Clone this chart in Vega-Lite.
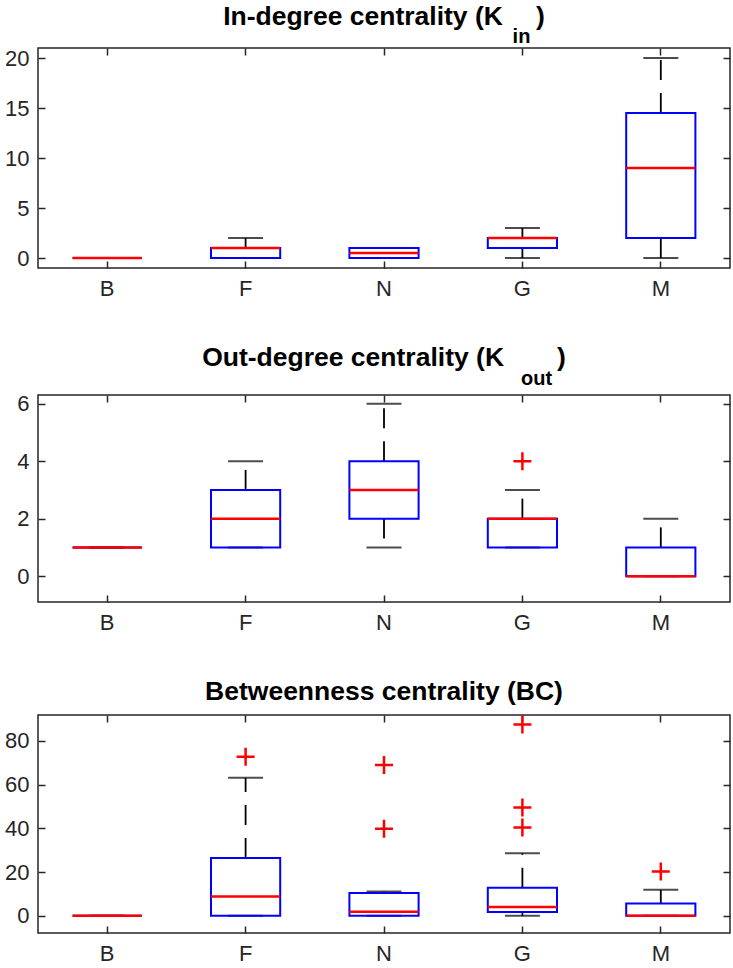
{
  "$schema": "https://vega.github.io/schema/vega-lite/v6.json",
  "padding": {"left": 3, "top": 2, "right": 0, "bottom": 0},
  "spacing": 44,
  "config": {
    "view": {"stroke": "#262626", "strokeWidth": 1.5},
    "font": "Liberation Sans",
    "axis": {"grid": false, "domain": false, "labelFont": "Liberation Sans", "labelFontSize": 22, "labelColor": "#262626", "tickColor": "#262626", "tickSize": -7, "tickWidth": 1.5},
    "title": {"font": "Liberation Sans", "fontSize": 26.5, "fontWeight": "bold", "color": "#000000", "subtitleFont": "Liberation Sans", "subtitleFontSize": 20, "subtitleFontWeight": "bold", "subtitleColor": "#000000", "subtitlePadding": -3, "anchor": "middle"}
  },
  "datasets": {
    "kin": [
      {"cat": "B", "lo": 0, "q1": 0, "med": 0, "q3": 0, "hi": 0},
      {"cat": "F", "lo": 0, "q1": 0, "med": 1, "q3": 1, "hi": 2},
      {"cat": "N", "lo": 0, "q1": 0, "med": 0.5, "q3": 1, "hi": 1},
      {"cat": "G", "lo": 0, "q1": 1, "med": 2, "q3": 2, "hi": 3},
      {"cat": "M", "lo": 0, "q1": 2, "med": 9, "q3": 14.5, "hi": 20}
    ],
    "kout": [
      {"cat": "B", "lo": 1, "q1": 1, "med": 1, "q3": 1, "hi": 1},
      {"cat": "F", "lo": 1, "q1": 1, "med": 2, "q3": 3, "hi": 4},
      {"cat": "N", "lo": 1, "q1": 2, "med": 3, "q3": 4, "hi": 6},
      {"cat": "G", "lo": 1, "q1": 1, "med": 2, "q3": 2, "hi": 3},
      {"cat": "M", "lo": 0, "q1": 0, "med": 0, "q3": 1, "hi": 2}
    ],
    "kout_out": [
      {"cat": "G", "v": 4}
    ],
    "bc": [
      {"cat": "B", "lo": 0, "q1": 0, "med": 0, "q3": 0, "hi": 0},
      {"cat": "F", "lo": 0, "q1": 0, "med": 8.8, "q3": 26.4, "hi": 63.2},
      {"cat": "N", "lo": 0, "q1": 0, "med": 1.8, "q3": 10.4, "hi": 11.1},
      {"cat": "G", "lo": 0, "q1": 1.7, "med": 4.0, "q3": 12.8, "hi": 28.6},
      {"cat": "M", "lo": 0, "q1": 0, "med": 0, "q3": 5.6, "hi": 11.9}
    ],
    "bc_out": [
      {"cat": "F", "v": 72.8},
      {"cat": "N", "v": 69.0},
      {"cat": "N", "v": 39.8},
      {"cat": "G", "v": 87.5},
      {"cat": "G", "v": 49.5},
      {"cat": "G", "v": 40.4},
      {"cat": "M", "v": 20.3}
    ]
  },
  "vconcat": [
    {
      "width": 692, "height": 220,
      "title": {"text": "In-degree centrality (K\u2003\u2005)", "subtitle": "\u200b\u2003\u2003\u2003\u2003\u2003\u2003\u2003\u2003\u2003\u2003\u2003\u2003\u2003\u2002\u2005in", "offset": 0},
      "data": {"name": "kin"},
      "layer": [
        {"mark": {"type": "rule", "color": "#000000", "strokeWidth": 1.8, "strokeDash": [20, 13]},
         "encoding": {
           "x": {"field": "cat", "type": "nominal", "title": null, "scale": {"domain": ["B", "F", "N", "G", "M"], "paddingInner": 0, "paddingOuter": 0}, "axis": {"orient": "bottom", "labelAngle": 0, "labelPadding": 17}},
           "y": {"field": "q3", "type": "quantitative", "title": null, "scale": {"domain": [-1, 21], "nice": false, "zero": false}, "axis": {"orient": "left", "values": [0, 5, 10, 15, 20], "labelPadding": 16}},
           "y2": {"field": "hi"}}},
        {"mark": {"type": "rule", "color": "#000000", "strokeWidth": 1.8, "strokeDash": [20, 13]},
         "encoding": {
           "x": {"field": "cat", "type": "nominal", "title": null, "scale": {"domain": ["B", "F", "N", "G", "M"], "paddingInner": 0, "paddingOuter": 0}, "axis": {"orient": "top", "labels": false}},
           "y": {"field": "q1", "type": "quantitative", "title": null, "scale": {"domain": [-1, 21], "nice": false, "zero": false}, "axis": {"orient": "right", "labels": false, "values": [0, 5, 10, 15, 20]}},
           "y2": {"field": "lo"}}},
        {"mark": {"type": "tick", "color": "#000000", "size": 35, "thickness": 2},
         "encoding": {
           "x": {"field": "cat", "type": "nominal", "axis": null, "scale": {"domain": ["B", "F", "N", "G", "M"], "paddingInner": 0, "paddingOuter": 0}},
           "y": {"field": "hi", "type": "quantitative", "axis": null, "scale": {"domain": [-1, 21], "nice": false, "zero": false}}}},
        {"mark": {"type": "tick", "color": "#000000", "size": 35, "thickness": 2},
         "encoding": {
           "x": {"field": "cat", "type": "nominal", "axis": null, "scale": {"domain": ["B", "F", "N", "G", "M"], "paddingInner": 0, "paddingOuter": 0}},
           "y": {"field": "lo", "type": "quantitative", "axis": null, "scale": {"domain": [-1, 21], "nice": false, "zero": false}}}},
        {"mark": {"type": "bar", "filled": false, "color": "#0000ff", "strokeWidth": 2, "width": {"band": 0.5}},
         "encoding": {
           "x": {"field": "cat", "type": "nominal", "axis": null, "scale": {"domain": ["B", "F", "N", "G", "M"], "paddingInner": 0, "paddingOuter": 0}},
           "y": {"field": "q1", "type": "quantitative", "axis": null, "scale": {"domain": [-1, 21], "nice": false, "zero": false}},
           "y2": {"field": "q3"}}},
        {"mark": {"type": "bar", "filled": false, "color": "#ff0000", "strokeWidth": 2.5, "width": {"band": 0.5}},
         "encoding": {
           "x": {"field": "cat", "type": "nominal", "axis": null, "scale": {"domain": ["B", "F", "N", "G", "M"], "paddingInner": 0, "paddingOuter": 0}},
           "y": {"field": "med", "type": "quantitative", "axis": null, "scale": {"domain": [-1, 21], "nice": false, "zero": false}},
           "y2": {"field": "med"}}}
      ],
      "resolve": {"axis": {"x": "independent", "y": "independent"}}
    },
    {
      "width": 692, "height": 207,
      "title": {"text": "Out-degree centrality (K\u2003\u2003)", "subtitle": "\u200b\u2003\u2003\u2003\u2003\u2003\u2003\u2003\u2003\u2003\u2003\u2003\u2003\u2003\u2003\u2003\u2005out", "offset": 4},
      "data": {"name": "kout"},
      "layer": [
        {"mark": {"type": "rule", "color": "#000000", "strokeWidth": 1.8, "strokeDash": [20, 13]},
         "encoding": {
           "x": {"field": "cat", "type": "nominal", "title": null, "scale": {"domain": ["B", "F", "N", "G", "M"], "paddingInner": 0, "paddingOuter": 0}, "axis": {"orient": "bottom", "labelAngle": 0, "labelPadding": 17}},
           "y": {"field": "q3", "type": "quantitative", "title": null, "scale": {"domain": [-0.9, 6.3], "nice": false, "zero": false}, "axis": {"orient": "left", "values": [0, 2, 4, 6], "labelPadding": 16}},
           "y2": {"field": "hi"}}},
        {"mark": {"type": "rule", "color": "#000000", "strokeWidth": 1.8, "strokeDash": [20, 13]},
         "encoding": {
           "x": {"field": "cat", "type": "nominal", "title": null, "scale": {"domain": ["B", "F", "N", "G", "M"], "paddingInner": 0, "paddingOuter": 0}, "axis": {"orient": "top", "labels": false}},
           "y": {"field": "q1", "type": "quantitative", "title": null, "scale": {"domain": [-0.9, 6.3], "nice": false, "zero": false}, "axis": {"orient": "right", "labels": false, "values": [0, 2, 4, 6]}},
           "y2": {"field": "lo"}}},
        {"mark": {"type": "tick", "color": "#000000", "size": 35, "thickness": 2},
         "encoding": {
           "x": {"field": "cat", "type": "nominal", "axis": null, "scale": {"domain": ["B", "F", "N", "G", "M"], "paddingInner": 0, "paddingOuter": 0}},
           "y": {"field": "hi", "type": "quantitative", "axis": null, "scale": {"domain": [-0.9, 6.3], "nice": false, "zero": false}}}},
        {"mark": {"type": "tick", "color": "#000000", "size": 35, "thickness": 2},
         "encoding": {
           "x": {"field": "cat", "type": "nominal", "axis": null, "scale": {"domain": ["B", "F", "N", "G", "M"], "paddingInner": 0, "paddingOuter": 0}},
           "y": {"field": "lo", "type": "quantitative", "axis": null, "scale": {"domain": [-0.9, 6.3], "nice": false, "zero": false}}}},
        {"mark": {"type": "bar", "filled": false, "color": "#0000ff", "strokeWidth": 2, "width": {"band": 0.5}},
         "encoding": {
           "x": {"field": "cat", "type": "nominal", "axis": null, "scale": {"domain": ["B", "F", "N", "G", "M"], "paddingInner": 0, "paddingOuter": 0}},
           "y": {"field": "q1", "type": "quantitative", "axis": null, "scale": {"domain": [-0.9, 6.3], "nice": false, "zero": false}},
           "y2": {"field": "q3"}}},
        {"mark": {"type": "bar", "filled": false, "color": "#ff0000", "strokeWidth": 2.5, "width": {"band": 0.5}},
         "encoding": {
           "x": {"field": "cat", "type": "nominal", "axis": null, "scale": {"domain": ["B", "F", "N", "G", "M"], "paddingInner": 0, "paddingOuter": 0}},
           "y": {"field": "med", "type": "quantitative", "axis": null, "scale": {"domain": [-0.9, 6.3], "nice": false, "zero": false}},
           "y2": {"field": "med"}}},
        {"data": {"name": "kout_out"},
         "mark": {"type": "point", "shape": "M-1,0L1,0M0,-1L0,1", "size": 324, "filled": false, "color": "#ff0000", "strokeWidth": 2.5, "opacity": 1},
         "encoding": {
           "x": {"field": "cat", "type": "nominal", "axis": null, "scale": {"domain": ["B", "F", "N", "G", "M"], "paddingInner": 0, "paddingOuter": 0}},
           "y": {"field": "v", "type": "quantitative", "axis": null, "scale": {"domain": [-0.9, 6.3], "nice": false, "zero": false}}}}
      ],
      "resolve": {"axis": {"x": "independent", "y": "independent"}}
    },
    {
      "width": 692, "height": 218,
      "title": {"text": "Betweenness centrality (BC)", "offset": 5},
      "data": {"name": "bc"},
      "layer": [
        {"mark": {"type": "rule", "color": "#000000", "strokeWidth": 1.8, "strokeDash": [20, 13]},
         "encoding": {
           "x": {"field": "cat", "type": "nominal", "title": null, "scale": {"domain": ["B", "F", "N", "G", "M"], "paddingInner": 0, "paddingOuter": 0}, "axis": {"orient": "bottom", "labelAngle": 0, "labelPadding": 17}},
           "y": {"field": "q3", "type": "quantitative", "title": null, "scale": {"domain": [-7.9, 91.9], "nice": false, "zero": false}, "axis": {"orient": "left", "values": [0, 20, 40, 60, 80], "labelPadding": 16}},
           "y2": {"field": "hi"}}},
        {"mark": {"type": "rule", "color": "#000000", "strokeWidth": 1.8, "strokeDash": [20, 13]},
         "encoding": {
           "x": {"field": "cat", "type": "nominal", "title": null, "scale": {"domain": ["B", "F", "N", "G", "M"], "paddingInner": 0, "paddingOuter": 0}, "axis": {"orient": "top", "labels": false}},
           "y": {"field": "q1", "type": "quantitative", "title": null, "scale": {"domain": [-7.9, 91.9], "nice": false, "zero": false}, "axis": {"orient": "right", "labels": false, "values": [0, 20, 40, 60, 80]}},
           "y2": {"field": "lo"}}},
        {"mark": {"type": "tick", "color": "#000000", "size": 35, "thickness": 2},
         "encoding": {
           "x": {"field": "cat", "type": "nominal", "axis": null, "scale": {"domain": ["B", "F", "N", "G", "M"], "paddingInner": 0, "paddingOuter": 0}},
           "y": {"field": "hi", "type": "quantitative", "axis": null, "scale": {"domain": [-7.9, 91.9], "nice": false, "zero": false}}}},
        {"mark": {"type": "tick", "color": "#000000", "size": 35, "thickness": 2},
         "encoding": {
           "x": {"field": "cat", "type": "nominal", "axis": null, "scale": {"domain": ["B", "F", "N", "G", "M"], "paddingInner": 0, "paddingOuter": 0}},
           "y": {"field": "lo", "type": "quantitative", "axis": null, "scale": {"domain": [-7.9, 91.9], "nice": false, "zero": false}}}},
        {"mark": {"type": "bar", "filled": false, "color": "#0000ff", "strokeWidth": 2, "width": {"band": 0.5}},
         "encoding": {
           "x": {"field": "cat", "type": "nominal", "axis": null, "scale": {"domain": ["B", "F", "N", "G", "M"], "paddingInner": 0, "paddingOuter": 0}},
           "y": {"field": "q1", "type": "quantitative", "axis": null, "scale": {"domain": [-7.9, 91.9], "nice": false, "zero": false}},
           "y2": {"field": "q3"}}},
        {"mark": {"type": "bar", "filled": false, "color": "#ff0000", "strokeWidth": 2.5, "width": {"band": 0.5}},
         "encoding": {
           "x": {"field": "cat", "type": "nominal", "axis": null, "scale": {"domain": ["B", "F", "N", "G", "M"], "paddingInner": 0, "paddingOuter": 0}},
           "y": {"field": "med", "type": "quantitative", "axis": null, "scale": {"domain": [-7.9, 91.9], "nice": false, "zero": false}},
           "y2": {"field": "med"}}},
        {"data": {"name": "bc_out"},
         "mark": {"type": "point", "shape": "M-1,0L1,0M0,-1L0,1", "size": 324, "filled": false, "color": "#ff0000", "strokeWidth": 2.5, "opacity": 1},
         "encoding": {
           "x": {"field": "cat", "type": "nominal", "axis": null, "scale": {"domain": ["B", "F", "N", "G", "M"], "paddingInner": 0, "paddingOuter": 0}},
           "y": {"field": "v", "type": "quantitative", "axis": null, "scale": {"domain": [-7.9, 91.9], "nice": false, "zero": false}}}}
      ],
      "resolve": {"axis": {"x": "independent", "y": "independent"}}
    }
  ]
}
